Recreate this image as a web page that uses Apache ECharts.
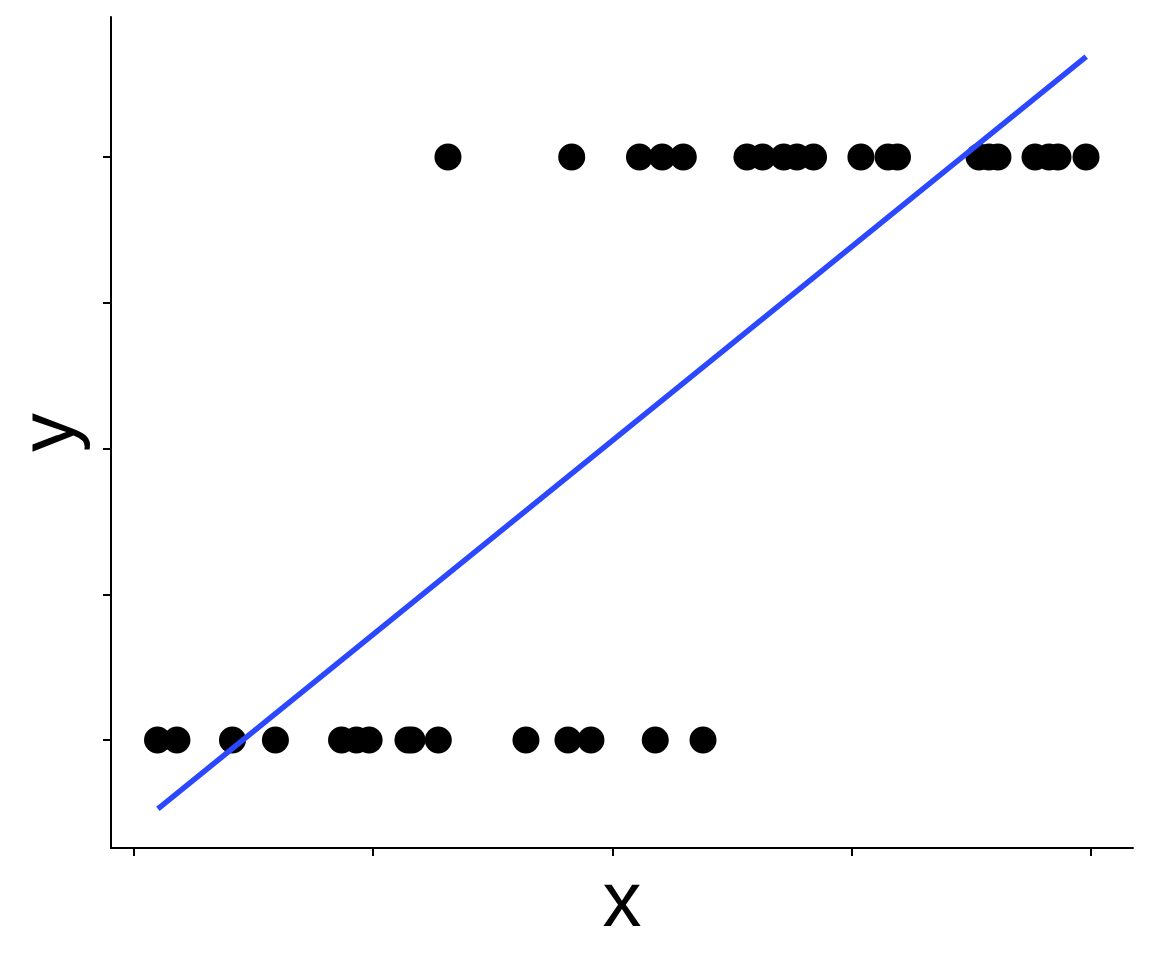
<!DOCTYPE html>
<html>
<head>
<meta charset="utf-8">
<script src="https://cdn.jsdelivr.net/npm/echarts@6/dist/echarts.min.js"></script>
<style>html,body{margin:0;padding:0;background:#fff;}#c{width:1152px;height:960px;}</style>
</head>
<body>
<div id="c"></div>
<script>
var x0 = [0.0246, 0.0449, 0.1029, 0.1478, 0.2169, 0.2325, 0.2457, 0.2863, 0.2905, 0.3180, 0.4096, 0.4535, 0.4775, 0.5447, 0.5946];
var x1 = [0.3281, 0.4574, 0.5282, 0.5520, 0.5740, 0.6405, 0.6569, 0.6789, 0.6928, 0.7101, 0.7596, 0.7879, 0.7978, 0.8830, 0.8934, 0.9028, 0.9415, 0.9561, 0.9655, 0.9948];
var fitX = [0.025, 0.995];
var fitY = [-0.118, 1.172];
var xTicks = [0, 0.25, 0.5, 0.75, 1];
var yTicks = [0, 0.25, 0.5, 0.75, 1];

var pts = x0.map(function(v){return [v,0];}).concat(x1.map(function(v){return [v,1];}));
var fit = fitX.map(function(v,i){return [v, fitY[i]];});

var chart = echarts.init(document.getElementById('c'), null, {renderer:'canvas'});
var axisCommon = {
  axisLine:{show:true, onZero:false, lineStyle:{color:'#000', width:2}},
  axisLabel:{show:false},
  splitLine:{show:false},
  nameTextStyle:{fontFamily:'Liberation Sans', fontSize:78, color:'#000'}
};
chart.setOption({
  animation:false,
  backgroundColor:'#fff',
  grid:{left:111, right:19, top:17, bottom:112, containLabel:false},
  xAxis:Object.assign({}, axisCommon, {
    type:'value', min:-0.024, max:1.0439,
    name:'x', nameLocation:'middle', nameGap:17,
    axisTick:{show:true, length:8, lineStyle:{color:'#000', width:2}, customValues:xTicks}
  }),
  yAxis:Object.assign({}, axisCommon, {
    type:'value', min:-0.1852, max:1.2401,
    name:'y', nameLocation:'middle', nameGap:20, nameRotate:90,
    axisTick:{show:true, length:8, lineStyle:{color:'#000', width:2}, customValues:yTicks}
  }),
  series:[
    {type:'scatter', data:pts, symbol:'circle', symbolSize:27, itemStyle:{color:'#000', opacity:1}, z:2},
    {type:'line', data:fit, showSymbol:false, symbol:'none', lineStyle:{color:'#2B48FF', width:5.5}, z:3}
  ]
});
</script>
</body>
</html>
